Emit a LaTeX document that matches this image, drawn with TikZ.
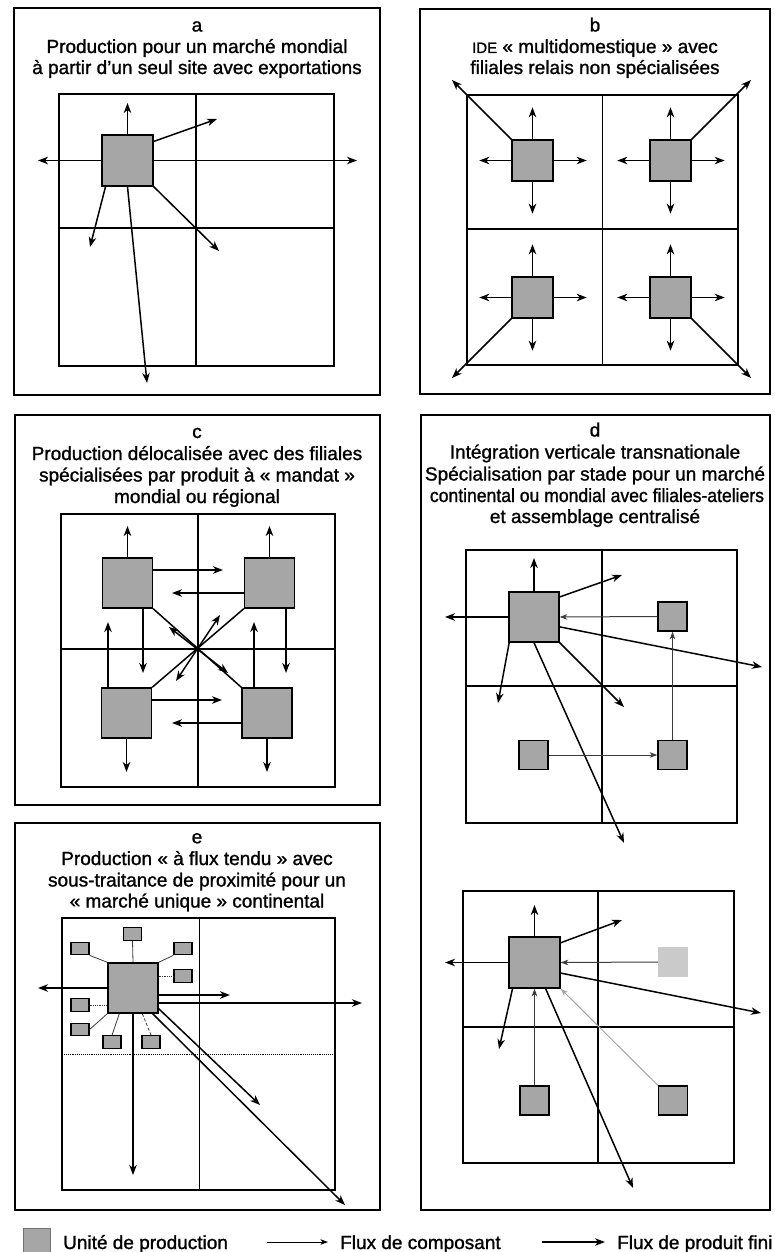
\documentclass[tikz,border=0pt]{standalone}
\usepackage{fontspec}
\setmainfont{Liberation Sans}[FakeBold=1.2]
\usetikzlibrary{arrows.meta}
\definecolor{unitfill}{RGB}{166,166,166}
\definecolor{unitlight}{RGB}{202,202,202}
\definecolor{compline}{RGB}{60,60,60}
\definecolor{complight}{RGB}{165,165,165}

\begin{document}
\begin{tikzpicture}[x=1pt,y=-1pt,
  panel/.style={line width=1.5pt},
  mapsquare/.style={line width=2.6pt},
  divider/.style={line width=1.2pt},
  unit/.style={draw=black, line width=1.4pt, fill=unitfill, inner sep=0pt, minimum size=#1},
  unit/.default=50pt,
  lightunit/.style={fill=unitlight, inner sep=0pt, minimum size=#1},
  subunit/.style={draw=black, line width=1.2pt, fill=unitfill, inner sep=0pt, minimum width=18pt, minimum height=12.5pt},
  fin/.style={line width=1.5pt, -{Stealth[length=10pt,width=7.5pt,inset=3pt]}},
  finboth/.style={line width=1.5pt, {Stealth[length=10pt,width=7.5pt,inset=3pt]}-{Stealth[length=10pt,width=7.5pt,inset=3pt]}},
  comp/.style={line width=1pt, draw=compline, -{Stealth[length=7.5pt,width=5.5pt,inset=2pt]}},
  complight/.style={comp, draw=complight},
  link/.style={line width=0.8pt, draw=compline},
  ttl/.style={font=\fontsize{19}{21.5}\selectfont, inner sep=0pt, anchor=base},
  lgd/.style={font=\fontsize{19}{21.5}\selectfont, inner sep=0pt, anchor=base west}
]
\useasboundingbox (0,0) rectangle (774,1252);

% ---------------- a : single site exporting worldwide
\draw[panel] (14,8) rectangle (380,395);
\node[ttl] (ta0) at (197,31.5) {a};
\node[ttl] (ta1) at (197,53) {Production pour un marché mondial};
\node[ttl] (ta2) at (197,74) {à partir d’un seul site avec exportations};
\draw[mapsquare] (59,94) rectangle (334,366);
\draw[divider] (196,94) -- (196,366) (59,228) -- (334,228);
\node[unit=51pt] (a0) at (127.5,160.5) {};
\coordinate (aN) at (127.5,103);
\coordinate (aW) at (38,160.5);
\coordinate (aE) at (357,160.5);
\coordinate (aNE) at (217,119);
\coordinate (aSW) at (90,247);
\coordinate (aSE) at (219,251);
\coordinate (aS) at (147,383);
\draw[fin] (a0.north) -- (aN);
\draw[fin] (a0.west) -- (aW);
\draw[fin] (a0.east) -- (aE);
\draw[fin] (a0.36) -- (aNE);
\draw[fin] (a0.-130) -- (aSW);
\draw[fin] (a0.south east) -- (aSE);
\draw[fin] (a0.south) -- (aS);

% ---------------- b : multidomestic subsidiaries
\draw[panel] (420,9) rectangle (770,394);
\node[ttl] (tb0) at (595,31.5) {b};
\node[ttl] (tb1) at (595,53) {{\fontsize{15}{18}\selectfont IDE} « multidomestique » avec};
\node[ttl] (tb2) at (595,74) {filiales relais non spécialisées};
\draw[mapsquare] (467,95) rectangle (738,365);
\draw[divider] (602.5,95) -- (602.5,365) (467,229) -- (738,229);
\node[unit=41pt] (b1) at (532.5,160.5) {};
\node[unit=41pt] (b2) at (670.5,160.5) {};
\node[unit=41pt] (b3) at (532.5,297.5) {};
\node[unit=41pt] (b4) at (670.5,297.5) {};
\foreach \n in {b1,b2,b3,b4} {
  \coordinate (\n N) at ([yshift=32pt]\n.north);
  \coordinate (\n S) at ([yshift=-32pt]\n.south);
  \coordinate (\n W) at ([xshift=-32pt]\n.west);
  \coordinate (\n E) at ([xshift=33pt]\n.east);
  \draw[fin] (\n.north) -- (\n N);
  \draw[fin] (\n.south) -- (\n S);
  \draw[fin] (\n.west) -- (\n W);
  \draw[fin] (\n.east) -- (\n E);
}
\coordinate (bNW) at (452,80);
\coordinate (bNE) at (751,80);
\coordinate (bSW) at (452,378);
\coordinate (bSE) at (751,378);
\draw[fin] (b1.north west) -- (bNW);
\draw[fin] (b2.north east) -- (bNE);
\draw[fin] (b3.south west) -- (bSW);
\draw[fin] (b4.south east) -- (bSE);

% ---------------- c : specialised subsidiaries with product mandates
\draw[panel] (15,415) rectangle (380,805);
\node[ttl] (tc0) at (197,438) {c};
\node[ttl] (tc1) at (197,460) {Production délocalisée avec des filiales};
\node[ttl] (tc2) at (197,481.5) {spécialisées par produit à « mandat »};
\node[ttl] (tc3) at (197,503) {mondial ou régional};
\draw[mapsquare] (61,514) rectangle (335,787);
\draw[divider] (198,514) -- (198,787) (61,649) -- (335,649);
\node[unit=50pt] (c1) at (127.5,583) {};
\node[unit=50pt] (c2) at (269.5,583) {};
\node[unit=50pt] (c3) at (126.5,713) {};
\node[unit=50pt] (c4) at (267,713) {};
\coordinate (c1N) at (127.5,526);
\coordinate (c2N) at (269.5,526);
\coordinate (c3S) at (126.5,772);
\coordinate (c4S) at (267,772);
\draw[fin] (c1.north) -- (c1N);
\draw[fin] (c2.north) -- (c2N);
\draw[fin] (c3.south) -- (c3S);
\draw[fin] (c4.south) -- (c4S);
\coordinate (c1E) at (223,570);
\coordinate (c2W) at (172,593);
\coordinate (c3E) at (222,700);
\coordinate (c4W) at (172,723);
\draw[fin] ([yshift=13pt]c1.east) -- (c1E);
\draw[fin] ([yshift=-10pt]c2.west) -- (c2W);
\draw[fin] ([yshift=13pt]c3.east) -- (c3E);
\draw[fin] ([yshift=-10pt]c4.west) -- (c4W);
\coordinate (c1S) at (143,673);
\coordinate (c3N) at (108,622);
\coordinate (c2S) at (286,673);
\coordinate (c4N) at (254,622);
\draw[fin] ([xshift=15.5pt]c1.south) -- (c1S);
\draw[fin] ([xshift=-18.5pt]c3.north) -- (c3N);
\draw[fin] ([xshift=16.5pt]c2.south) -- (c2S);
\draw[fin] ([xshift=-13pt]c4.north) -- (c4N);
\draw[line width=1.5pt] (c1.south east) -- (c4.north west);
\draw[line width=1.5pt] (c2.south west) -- (c3.north east);
\coordinate (cx1) at (169,627);
\coordinate (cx2) at (228,673);
\coordinate (cx3) at (220,615);
\coordinate (cx4) at (176,681);
\draw[finboth] (cx1) -- (cx2);
\draw[finboth] (cx3) -- (cx4);

% ---------------- d : transnational vertical integration
\draw[panel] (421,415) rectangle (770,1210);
\node[ttl] (td0) at (595,436.5) {d};
\node[ttl] (td1) at (595,458.5) {Intégration verticale transnationale};
\node[ttl] (td2) at (595,480.5) {Spécialisation par stade pour un marché};
\node[ttl] (td3) at (597,502) {\scalebox{0.925}[1]{continental ou mondial avec filiales-ateliers}};
\node[ttl] (td4) at (595,523) {et assemblage centralisé};
% upper map
\draw[mapsquare] (466,550) rectangle (737,823);
\draw[divider] (602,550) -- (602,823) (466,686) -- (737,686);
\node[unit=50pt] (d0) at (534,617) {};
\node[unit=29pt] (d1) at (672.5,616.5) {};
\node[unit=29pt] (d2) at (672.5,755) {};
\node[unit=29pt] (d3) at (533.5,755) {};
\coordinate (d0N) at (534,558);
\coordinate (d0W) at (445,617);
\coordinate (d0NE) at (622,575);
\coordinate (d0E) at (762,667);
\coordinate (d0SW) at (498,703);
\coordinate (d0SE) at (624,707);
\coordinate (d0S) at (624,843);
\draw[fin] (d0.north) -- (d0N);
\draw[fin] (d0.west) -- (d0W);
\draw[fin] (d0.38.7) -- (d0NE);
\draw[fin] (d0.-21.8) -- (d0E);
\draw[fin] (d0.-134) -- (d0SW);
\draw[fin] (d0.south east) -- (d0SE);
\draw[fin] (d0.south) -- (d0S);
\draw[comp] (d1.west) -- (d0.east);
\draw[comp] (d2.north) -- (d1.south);
\draw[comp] (d3.east) -- (d2.west);
% lower map
\draw[mapsquare] (463,891) rectangle (734,1163);
\draw[divider] (598,891) -- (598,1163) (463,1027) -- (734,1027);
\node[unit=51pt] (dd0) at (534.5,962.5) {};
\node[lightunit=30pt] (dd1) at (673,962) {};
\node[unit=29pt] (dd2) at (534.5,1100.5) {};
\node[unit=29pt] (dd3) at (673,1100.5) {};
\coordinate (dd0N) at (534.5,905);
\coordinate (dd0W) at (445,962.5);
\coordinate (dd0NE) at (622,920);
\coordinate (dd0E) at (761,1013);
\coordinate (dd0SW) at (499,1049);
\coordinate (dd0S) at (633,1188);
\draw[fin] (dd0.north) -- (dd0N);
\draw[fin] (dd0.west) -- (dd0W);
\draw[fin] (dd0.37.4) -- (dd0NE);
\draw[fin] (dd0.-22.4) -- (dd0E);
\draw[fin] (dd0.-130) -- (dd0SW);
\draw[fin] (dd0.-67.6) -- (dd0S);
\draw[comp] (dd1.west) -- (dd0.east);
\draw[comp] (dd2.north) -- (dd0.south);
\draw[complight] (dd3.north west) -- (dd0.south east);

% ---------------- e : just-in-time production with local subcontracting
\draw[panel] (15,823) rectangle (380,1210);
\node[ttl] (te0) at (197,843.3) {e};
\node[ttl] (te1) at (197,865) {Production « à flux tendu » avec};
\node[ttl] (te2) at (197,886.5) {sous-traitance de proximité pour un};
\node[ttl] (te3) at (197,907.5) {« marché unique » continental};
\draw[line width=0.8pt] (199,918) -- (199,1190);
\draw[line width=0.9pt, densely dotted] (62,1054) -- (335,1054);
\draw[mapsquare] (62,918) rectangle (335,1190);
\node[unit=50pt] (e0) at (133,988) {};
\node[subunit] (s1) at (132.5,934) {};
\node[subunit] (s2) at (80,948.5) {};
\node[subunit] (s3) at (183,948.5) {};
\node[subunit] (s4) at (183,976) {};
\node[subunit] (s5) at (80,1005) {};
\node[subunit] (s6) at (80,1029.5) {};
\node[subunit] (s7) at (112,1042) {};
\node[subunit] (s8) at (151,1042) {};
\draw[link] (s1.south) -- (e0.north);
\draw[link] (s2.south east) -- (e0.north west);
\draw[link] (s3.south west) -- (e0.north east);
\draw[link, densely dotted] (s4.west) -- (s4.west -| e0.east);
\draw[link, densely dotted] (s5.east) -- (s5.east -| e0.west);
\draw[link] (s6.east) -- (e0.south west);
\draw[link] (s7.north) -- (e0.-118);
\draw[link, densely dashed] (s8.north) -- (e0.-70);
\coordinate (e0W) at (38,988);
\coordinate (e0E1) at (230,995);
\coordinate (e0E2) at (362,1003);
\coordinate (e0S) at (133,1175);
\coordinate (e0D1) at (260,1105);
\coordinate (e0D2) at (345,1205);
\draw[fin] (e0.west) -- (e0W);
\draw[fin] ([yshift=-7pt]e0.east) -- (e0E1);
\draw[fin] ([yshift=-15pt]e0.east) -- (e0E2);
\draw[fin] (e0.south) -- (e0S);
\draw[fin] ([yshift=5pt]e0.south east) -- (e0D1);
\draw[fin] ([xshift=-6pt]e0.south east) -- (e0D2);

% ---------------- legend
\node[draw=black!55, line width=1.2pt, fill=unitfill, inner sep=0pt,
      minimum width=27pt, minimum height=30pt, anchor=north west] (lg0) at (23,1228) {};
\node[lgd] (lg1) at (63,1249) {Unité de production};
\coordinate (lgc1) at (267,1242);
\coordinate (lgc2) at (328,1242);
\draw[comp, draw=black] (lgc1) -- (lgc2);
\node[lgd] (lg2) at (340,1249) {Flux de composant};
\coordinate (lgf1) at (542,1242);
\coordinate (lgf2) at (605,1242);
\draw[fin] (lgf1) -- (lgf2);
\node[lgd] (lg3) at (617,1249) {Flux de produit fini};
\end{tikzpicture}
\end{document}
